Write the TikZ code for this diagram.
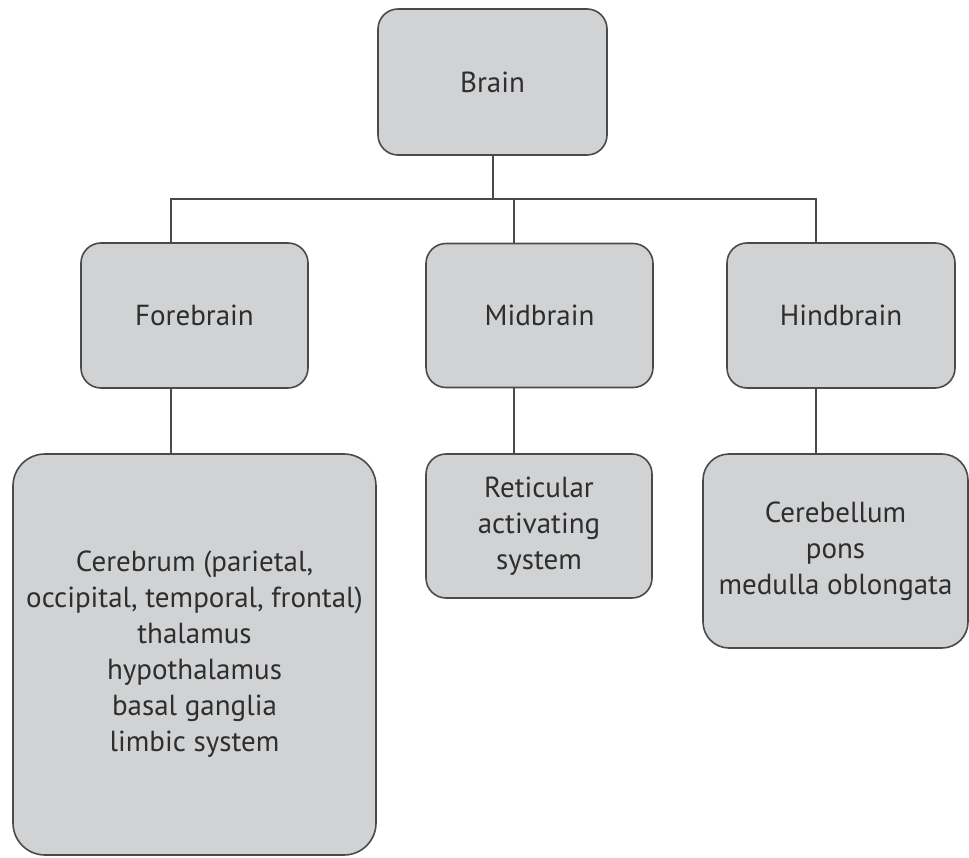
\documentclass[tikz,border=0pt]{standalone}
\usepackage{fontspec}
\setmainfont{PT Sans}
\definecolor{boxfill}{HTML}{D1D2D4}
\definecolor{boxline}{HTML}{4A4A4A}
\definecolor{txt}{HTML}{2E2E2E}
\begin{document}
\begin{tikzpicture}[x=1pt,y=-1pt,
  box/.style={draw=boxline,fill=boxfill,line width=1.6pt,rounded corners=20pt,
    inner sep=0pt,align=center,text=txt,
    font=\fontsize{29}{36}\selectfont},
  link/.style={draw=boxline,line width=1.6pt}]
\useasboundingbox (0,0) rectangle (969,858);
\node[box,minimum width=229,minimum height=146] (brain) at (492.5,82) {Brain};
\node[box,minimum width=227,minimum height=145] (fore) at (194.5,315.5) {Forebrain};
\node[box,minimum width=227,minimum height=144] (mid) at (539.5,315.5) {Midbrain};
\node[box,minimum width=228,minimum height=145] (hind) at (841,315.5) {Hindbrain};
\node[box,rounded corners=32pt,minimum width=363,minimum height=401] (forec) at (194.5,654.5)
  {Cerebrum (parietal,\\occipital, temporal, frontal)\\thalamus\\hypothalamus\\basal ganglia\\limbic system};
\node[box,minimum width=226,minimum height=144] (midc) at (539,526)
  {Reticular\\activating\\system};
\node[box,rounded corners=26pt,minimum width=265,minimum height=194] (hindc) at (835.5,551)
  {Cerebellum\\pons\\medulla oblongata};
\coordinate (jB) at (493,199);
\coordinate (jF) at (171,199);
\coordinate (jM) at (514,199);
\coordinate (jH) at (816,199);
\draw[link] (brain.south -| jB) -- (jB);
\draw[link] (jF |- fore.north) -- (jF) -- (jH) -- (jH |- hind.north);
\draw[link] (jM) -- (jM |- mid.north);
\draw[link] (jF |- fore.south) -- (jF |- forec.north);
\draw[link] (jM |- mid.south) -- (jM |- midc.north);
\draw[link] (jH |- hind.south) -- (jH |- hindc.north);
\end{tikzpicture}
\end{document}
